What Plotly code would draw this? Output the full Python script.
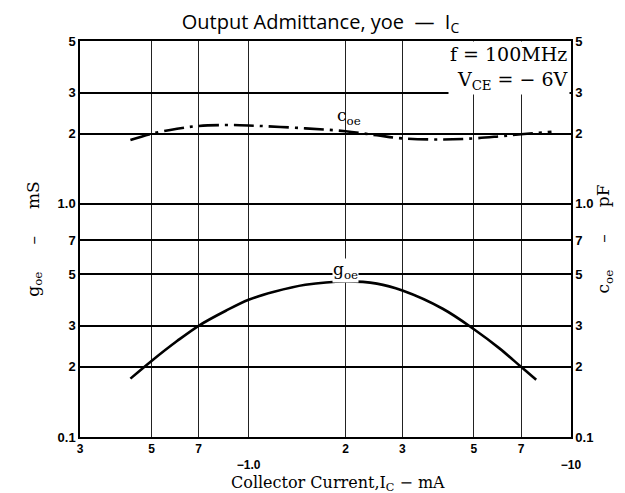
import plotly.graph_objects as go

# ---- data ----
ic_goe = [0.43, 0.5, 0.6, 0.7, 0.85, 1.0, 1.2, 1.5, 2.0, 2.5, 3.0, 4.0, 5.0, 6.0, 7.0, 7.8]
goe = [0.178, 0.212, 0.258, 0.300, 0.348, 0.388, 0.420, 0.450, 0.465, 0.455, 0.425, 0.355, 0.290, 0.240, 0.200, 0.176]

ic_coe = [0.43, 0.5, 0.6, 0.7, 0.85, 1.0, 1.5, 2.0, 2.5, 3.0, 4.0, 5.0, 6.0, 7.0, 8.7]
coe = [1.88, 2.00, 2.10, 2.16, 2.18, 2.17, 2.11, 2.05, 1.97, 1.91, 1.89, 1.91, 1.95, 1.99, 2.04]

x_tickvals = [0.3, 0.5, 0.7, 1.0, 2, 3, 5, 7, 10]
x_ticktext = ["3", "5", "7", " <br>\u22121.0", "2", "3", "5", "7", " <br>\u221210"]
y_tickvals = [0.1, 0.2, 0.3, 0.5, 0.7, 1.0, 2, 3, 5]
y_ticktext = ["0.1", "2", "3", "5", "7", "1.0", "2", "3", "5"]

SERIF = "DejaVu Serif"
TICKFONT = dict(family="Liberation Sans", size=13, color="black", weight="bold")
XTICKFONT = dict(family="Liberation Sans", size=12, color="black", weight="bold")

fig = go.Figure()
fig.add_trace(go.Scatter(x=ic_goe, y=goe, mode="lines",
                         line=dict(color="black", width=2.6, shape="spline", smoothing=1.0),
                         name="goe", yaxis="y"))
fig.add_trace(go.Scatter(x=ic_coe, y=coe, mode="lines",
                         line=dict(color="black", width=2.6, shape="spline", smoothing=1.0,
                                   dash="20px,6px,3px,6px"),
                         name="coe", yaxis="y2"))

fig.add_annotation(x=0.30, y=-0.285, xref="x", yref="y", text="g<sub>oe</sub>", showarrow=False,
                   font=dict(family=SERIF, size=17, color="black"), bgcolor="white", borderpad=0)
fig.add_annotation(x=0.31, y=0.375, xref="x", yref="y", text="c<sub>oe</sub>", showarrow=False,
                   font=dict(family=SERIF, size=17, color="black"))
fig.add_annotation(x=0.998, y=1.0, xref="paper", yref="paper", xanchor="right", yanchor="top",
                   text="f = 100MHz<br>V<sub>CE</sub> = \u2212 6V", align="right", showarrow=False,
                   font=dict(family=SERIF, size=19, color="black"), bgcolor="white", borderpad=1)
fig.add_annotation(x=0.525, y=-0.117, xref="paper", yref="paper", xanchor="center", yanchor="middle",
                   text="Collector Current,I<sub>C</sub> \u2212 mA", showarrow=False,
                   font=dict(family=SERIF, size=16, color="black"))

axis_common = dict(showline=True, linecolor="black", linewidth=1.5, ticks="", zeroline=False)
fig.update_layout(
    width=625, height=493,
    margin=dict(l=72, r=62, t=33, b=64),
    paper_bgcolor="white", plot_bgcolor="white",
    showlegend=False,
    title=dict(text="Output Admittance, yoe  \u2014  I<sub>C</sub>", x=0.5, xanchor="center",
               y=0.972, yanchor="middle", font=dict(family="Open Sans", size=20, color="black")),
    xaxis=dict(type="log", range=[-0.5229, 1.0], tickvals=x_tickvals, ticktext=x_ticktext,
               showgrid=True, gridcolor="#222222", gridwidth=1.2, tickfont=XTICKFONT, mirror=True,
               **axis_common),
    yaxis=dict(type="log", range=[-1.0, 0.69897], tickvals=y_tickvals, ticktext=y_ticktext,
               showgrid=True, gridcolor="black", gridwidth=1.8, tickfont=TICKFONT,
               title=dict(text="g<sub>oe</sub>     \u2013     mS", font=dict(family=SERIF, size=17, color="black"),
                          standoff=14),
               **axis_common),
    yaxis2=dict(type="log", range=[-1.0, 0.69897], tickvals=y_tickvals, ticktext=y_ticktext,
                overlaying="y", side="right", showgrid=False, tickfont=TICKFONT,
                title=dict(text="c<sub>oe</sub>     \u2013     pF", font=dict(family=SERIF, size=17, color="black"),
                           standoff=4),
                **axis_common),
)
fig.write_html("out.html")
